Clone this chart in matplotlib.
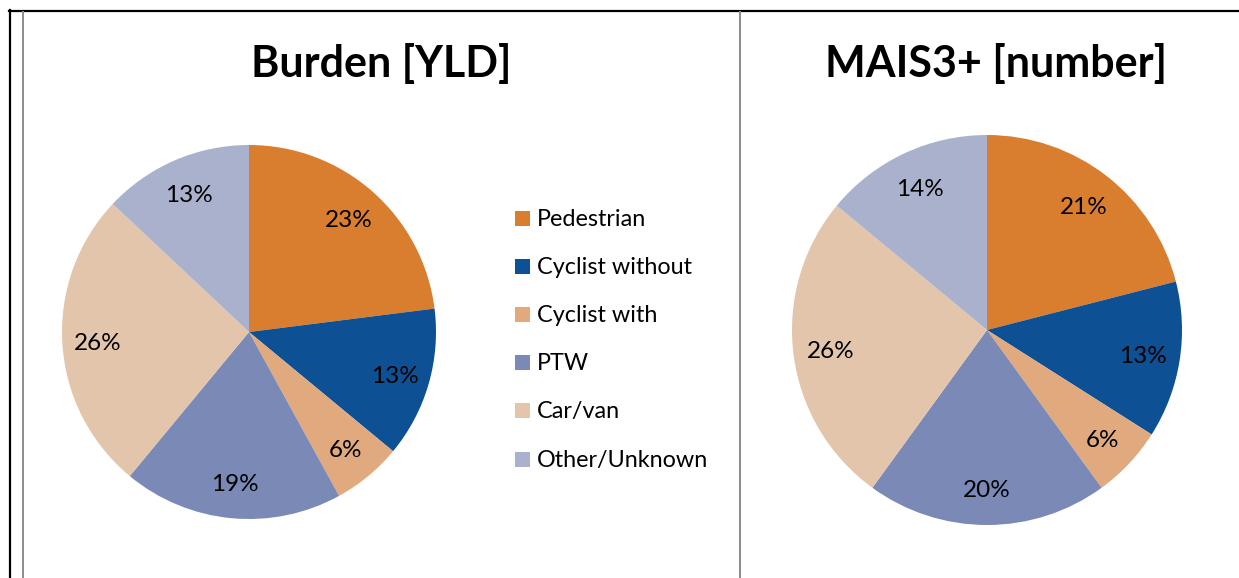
import matplotlib
matplotlib.use("Agg")
import matplotlib.pyplot as plt
from matplotlib.lines import Line2D
from matplotlib.patches import Rectangle
from matplotlib.transforms import offset_copy

categories = ["Pedestrian", "Cyclist without", "Cyclist with", "PTW", "Car/van", "Other/Unknown"]
burden_yld = [23, 13, 6, 19, 26, 13]
mais3_number = [21, 13, 6, 20, 26, 14]
titles = ["Burden [YLD]", "MAIS3+ [number]"]
colors = ["#D97D2E", "#0E5094", "#E0A97E", "#7A89B5", "#E2C5AB", "#A9B1CD"]

W, H = 1239, 578
fig = plt.figure(figsize=(W / 100, H / 100), dpi=100)
fig.patch.set_facecolor("white")
FONT = "Lato"
LBL = 17.5

def px_axes(cx, cy, r):
    return fig.add_axes([(cx - r) / W, (H - cy - r) / H, 2 * r / W, 2 * r / H])

def draw_pie(ax, vals):
    wedges, texts = ax.pie(vals, colors=colors, startangle=90, counterclock=False,
                           labels=[f"{v}%" for v in vals], labeldistance=0.81,
                           textprops=dict(fontsize=LBL, family=FONT, color="black"),
                           wedgeprops=dict(linewidth=0))
    # center digits visually: baseline shifted down by half the digit height
    for t in texts:
        t.set_ha("center"); t.set_va("baseline")
        t.set_transform(offset_copy(ax.transData, fig=fig, x=0, y=-LBL * 0.716 / 2, units="points"))
    ax.set_xlim(-1, 1); ax.set_ylim(-1, 1)
    ax.set_aspect("equal")
    ax.axis("off")

ax1 = px_axes(249, 332, 187)
draw_pie(ax1, burden_yld)
ax2 = px_axes(987, 330, 195)
draw_pie(ax2, mais3_number)

fig.text(381 / W, 1 - 77 / H, titles[0], ha="center", va="baseline",
         fontsize=31, fontweight="bold", family=FONT)
fig.text(996 / W, 1 - 77 / H, titles[1], ha="center", va="baseline",
         fontsize=31, fontweight="bold", family=FONT)

# legend
baselines = [226, 274, 322, 370, 418, 467]
for c, lab, y in zip(colors, categories, baselines):
    fig.add_artist(Rectangle((515 / W, 1 - y / H), 15 / W, 15 / H,
                             transform=fig.transFigure, facecolor=c, edgecolor="none"))
    fig.text(537 / W, 1 - y / H, lab, ha="left", va="baseline", fontsize=16.8, family=FONT)

# frame lines
def fline(x0, y0, x1, y1, color, lw):
    fig.add_artist(Line2D([x0 / W, x1 / W], [1 - y0 / H, 1 - y1 / H],
                          transform=fig.transFigure, color=color, linewidth=lw))

fline(9, 11, W, 11, "black", 1.6)
fline(10, 10, 10, H, "black", 1.6)
fline(22.5, 12, 22.5, H, "#8C8C8C", 1.4)
fline(740, 12, 740, H, "#8C8C8C", 1.4)

fig.savefig("out.png", dpi=100, facecolor="white")
